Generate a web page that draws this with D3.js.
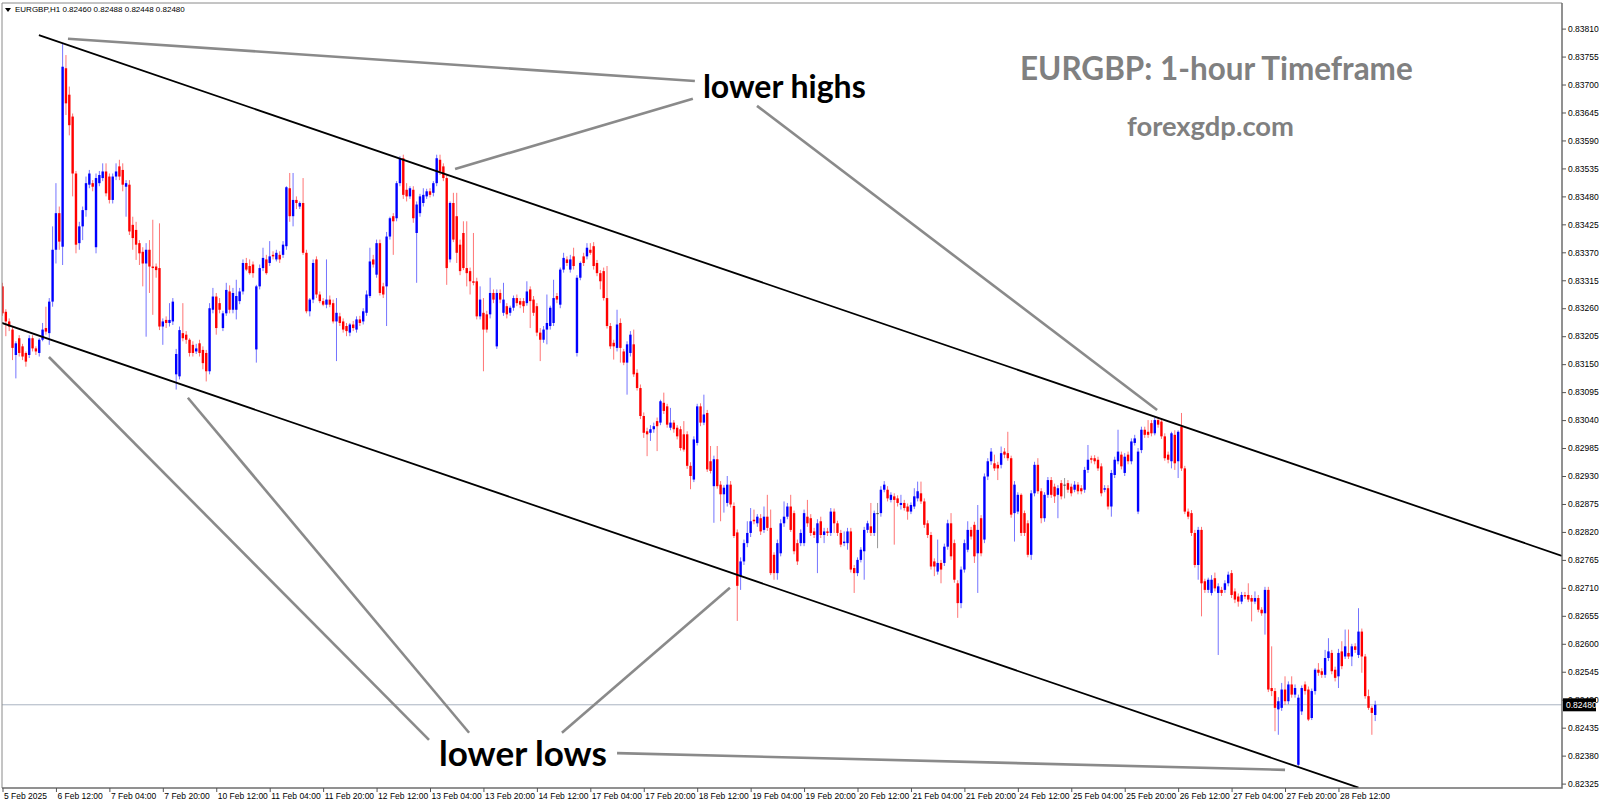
<!DOCTYPE html>
<meta charset="utf-8">
<style>
body { margin: 0; background: #fff; }
svg { display: block; font-family: "Liberation Sans", Arial, sans-serif; }
.axis text { font-size: 8.5px; fill: #000; }
.axis line { stroke: #555; }
.note { font-family: Lato, "Open Sans", sans-serif; font-weight: 700; }
</style>
<svg width="1600" height="805"></svg>
<script src="https://d3js.org/d3.v7.min.js"></script>
<script>

// EURGBP H1, 5 Feb 20:00 -> 28 Feb 23:00, one row per hour: [open, high, low, close] in points (x 0.00001)
var feb05to07 = [
  [83303,83310,83245,83250],[83253,83258,83205,83234],[83234,83240,83215,83224],[83218,83224,83158,83182],
  [83168,83195,83122,83191],[83201,83207,83165,83172],[83185,83190,83158,83165],[83172,83175,83145,83155],
  [83168,83207,83162,83201],[83201,83207,83175,83181],[83181,83185,83168,83175],[83172,83201,83165,83198],
  [83198,83231,83195,83218],[83221,83263,83208,83214],[83211,83280,83188,83273],[83273,83421,83263,83375],
  [83375,83506,83348,83447],[83447,83460,83375,83391],[83381,83781,83345,83735],[83732,83758,83640,83663],
  [83680,83696,83600,83620],[83637,83643,83480,83525],[83525,83530,83368,83385],[83388,83430,83375,83421],
  [83421,83460,83394,83453],[83453,83519,83440,83506],[83503,83532,83496,83525],[83506,83512,83490,83499],
  [83380,83525,83368,83516],[83506,83530,83500,83522],[83516,83545,83510,83529],[83529,83545,83480,83486],
  [83519,83525,83466,83473],[83473,83525,83466,83519],[83519,83545,83512,83529],[83539,83552,83512,83519],
  [83532,83545,83490,83503],[83499,83512,83440,83506],[83503,83512,83404,83411],[83424,83440,83375,83398],
  [83414,83430,83355,83385],[83388,83394,83345,83368],[83371,83380,83303,83348],[83348,83388,83204,83375],
  [83375,83394,83290,83342],[83342,83434,83247,83339],[83342,83348,83320,83335],[83339,83427,83217,83224],
  [83224,83240,83188,83234],[83237,83244,83221,83231],[83231,83270,83224,83237],[83234,83280,83227,83273]
];

var feb10to14 = [
  [83130,83180,83100,83170],[83126,83224,83120,83217],[83211,83270,83195,83201],[83208,83215,83190,83198],
  [83198,83201,83165,83172],[83188,83195,83165,83172],[83175,83190,83170,83181],[83191,83198,83165,83172],
  [83178,83185,83140,83152],[83172,83178,83116,83136],[83136,83270,83130,83260],[83257,83300,83250,83283],
  [83283,83290,83208,83221],[83270,83280,83250,83257],[83221,83255,83215,83250],[83250,83310,83245,83296],
  [83293,83305,83250,83257],[83257,83300,83250,83290],[83257,83316,83238,83284],[83274,83300,83268,83293],
  [83293,83356,83287,83349],[83349,83359,83333,83336],[83343,83356,83326,83329],[83346,83352,83320,83329],
  [83179,83306,83153,83303],[83303,83346,83297,83339],[83339,83379,83333,83359],[83356,83365,83326,83329],
  [83349,83392,83343,83362],[83365,83372,83356,83362],[83356,83375,83352,83369],[83365,83372,83349,83356],
  [83365,83392,83359,83385],[83382,83500,83375,83498],[83496,83526,83430,83441],[83441,83526,83421,83473],
  [83473,83480,83455,83467],[83460,83470,83455,83467],[83467,83516,83365,83369],[83369,83375,83250,83254],
  [83254,83280,83244,83277],[83277,83356,83270,83349],[83356,83362,83280,83287],[83287,83293,83270,83274],
  [83274,83280,83264,83267],[83267,83356,83260,83277],[83277,83285,83262,83267],[83270,83277,83230,83234],
  [83234,83280,83156,83251],[83244,83251,83225,83231],[83234,83240,83212,83218],[83225,83231,83205,83215],
  [83212,83231,83205,83228],[83228,83235,83215,83221],[83218,83244,83212,83238],[83238,83245,83225,83231],
  [83234,83260,83228,83254],[83251,83295,83245,83287],[83284,83379,83280,83352],[83356,83365,83340,83346],
  [83326,83395,83320,83388],[83388,83395,83285,83290],[83303,83310,83280,83287],[83303,83410,83225,83401],
  [83401,83440,83395,83437],[83441,83447,83365,83431],[83437,83510,83431,83506],[83506,83559,83500,83555],
  [83555,83562,83475,83483],[83493,83506,83470,83480],[83480,83500,83475,83496],[83493,83500,83428,83437],
  [83408,83470,83310,83464],[83447,83485,83440,83480],[83467,83496,83460,83483],[83480,83495,83475,83490],
  [83490,83496,83478,83483],[83487,83510,83480,83506],[83506,83562,83500,83555],[83552,83562,83522,83529],
  [83539,83545,83510,83516],[83516,83522,83306,83339],[83356,83470,83350,83467],[83467,83487,83390,83395],
  [83441,83487,83349,83369],[83385,83395,83325,83333],[83408,83431,83335,83339],[83339,83431,83303,83329],
  [83333,83340,83287,83313],[83313,83408,83305,83310],[83313,83320,83238,83244],[83244,83303,83238,83277],
  [83251,83280,83136,83218],[83248,83255,83212,83218],[83248,83320,83240,83290],[83290,83297,83270,83277],
  [83185,83297,83180,83290],[83290,83297,83270,83277],[83251,83310,83245,83277],[83264,83270,83240,83248],
  [83251,83265,83245,83261],[83261,83285,83255,83280],[83280,83287,83264,83270],[83274,83280,83260,83267],
  [83274,83280,83251,83264],[83270,83313,83265,83293],[83297,83303,83221,83274],[83277,83284,83245,83251],
  [83264,83270,83205,83212],[83212,83221,83156,83198],[83198,83225,83192,83218],[83218,83287,83189,83231],
  [83225,83265,83218,83261],[83231,83316,83225,83280],[83284,83290,83270,83277],[83267,83340,83260,83336],
  [83336,83369,83330,83359],[83356,83362,83343,83349],[83336,83365,83330,83356],[83362,83379,83336,83343]
];

var feb17to21 = [
  [83172,83325,83165,83320],[83320,83352,83315,83349],[83362,83369,83343,83349],[83362,83388,83356,83379],
  [83375,83388,83365,83369],[83382,83390,83336,83343],[83349,83355,83323,83329],[83329,83335,83297,83313],
  [83333,83340,83275,83280],[83280,83343,83220,83225],[83225,83231,83180,83185],[83192,83198,83159,83185],
  [83182,83257,83175,83228],[83231,83240,83153,83182],[83175,83180,83148,83153],[83153,83195,83090,83189],
  [83172,83215,83165,83208],[83189,83218,83125,83130],[83133,83140,83098,83103],[83103,83110,83042,83048],
  [83048,83055,83005,83015],[83018,83025,82969,83012],[83015,83030,82999,83022],[83022,83035,83015,83028],
  [83038,83045,82979,83028],[83035,83080,83030,83077],[83074,83094,83052,83058],[83067,83072,83025,83031],
  [83025,83064,83020,83035],[83035,83040,83015,83022],[83025,83030,83002,83008],[83022,83028,82980,82985],
  [83012,83038,82978,82982],[83012,83018,82944,82950],[82950,82957,82904,82930],[82923,83008,82918,83002],
  [82995,83072,82990,83067],[83067,83073,83028,83035],[83035,83090,83030,83051],[83054,83060,82938,82943],
  [82959,82989,82935,82940],[82910,82970,82838,82963],[82963,82989,82905,82910],[82913,82920,82841,82894],
  [82894,82912,82858,82907],[82877,82930,82870,82913],[82913,82920,82868,82874],[82871,82878,82808,82812],
  [82819,82825,82645,82714],[82733,82770,82706,82762],[82762,82805,82755,82798],[82798,82841,82790,82818],
  [82818,82867,82810,82841],[82844,82864,82835,82841],[82837,82855,82830,82850],[82847,82855,82814,82821],
  [82824,82870,82818,82850],[82850,82893,82822,82828],[82828,82864,82735,82739],[82775,82780,82726,82739],
  [82739,82805,82726,82798],[82778,82845,82772,82837],[82837,82880,82830,82850],[82850,82877,82845,82870],
  [82870,82893,82820,82824],[82857,82862,82776,82782],[82798,82805,82755,82762],[82798,82825,82792,82818],
  [82798,82864,82792,82857],[82850,82883,82830,82837],[82847,82855,82812,82818],[82821,82828,82808,82814],
  [82798,82845,82739,82837],[82841,82850,82808,82814],[82814,82828,82798,82821],[82821,82828,82812,82818],
  [82818,82867,82812,82860],[82860,82866,82818,82837],[82837,82842,82812,82818],[82818,82824,82790,82795],
  [82798,82821,82792,82801],[82798,82828,82785,82821],[82821,82828,82740,82746],[82749,82755,82700,82739],
  [82739,82770,82733,82765],[82765,82790,82760,82785],[82782,82830,82726,82824],[82824,82842,82818,82837],
  [82831,82877,82812,82818],[82818,82862,82812,82857],[82857,82877,82788,82857],[82857,82910,82850,82903],
  [82903,82920,82898,82913],[82903,82910,82880,82886],[82883,82898,82878,82893],[82890,82896,82795,82883],
  [82886,82892,82870,82877],[82873,82893,82864,82877],[82877,82883,82862,82867],[82870,82876,82844,82860],
  [82860,82878,82855,82873],[82870,82906,82865,82890],[82886,82919,82880,82900],[82896,82919,82875,82880],
  [82880,82886,82828,82834],[82837,82843,82808,82814],[82814,82820,82746,82752],[82762,82768,82733,82752],
  [82742,82805,82736,82759],[82759,82765,82719,82746],[82759,82797,82753,82791],[82791,82844,82785,82837],
  [82837,82857,82765,82772],[82798,82805,82720,82726],[82719,82725,82651,82680],[82680,82752,82670,82746],
  [82746,82805,82740,82798],[82785,82841,82780,82824],[82824,82830,82805,82811],[82834,82840,82759,82772]
];

var feb24to28 = [
  [82778,82873,82700,82824],[82847,82853,82772,82778],[82805,82935,82798,82929],[82929,82965,82922,82959],
  [82959,82985,82952,82978],[82955,82972,82940,82945],[82952,82958,82922,82945],[82952,82988,82945,82975],
  [82978,82985,82965,82972],[82975,83017,82960,82965],[82965,82970,82848,82854],[82857,82920,82801,82913],
  [82860,82898,82855,82893],[82893,82896,82812,82818],[82857,82862,82812,82818],[82837,82843,82770,82775],
  [82775,82902,82765,82896],[82896,82958,82890,82952],[82952,82965,82895,82900],[82900,82906,82837,82847],
  [82847,82898,82840,82893],[82893,82928,82887,82922],[82922,82928,82887,82893],[82909,82915,82877,82890],
  [82893,82912,82847,82906],[82916,82922,82884,82890],[82913,82926,82886,82913],[82916,82922,82897,82903],
  [82909,82915,82890,82896],[82903,82920,82898,82913],[82913,82918,82894,82900],[82906,82912,82894,82900],
  [82903,82948,82897,82942],[82942,82991,82936,82962],[82965,82970,82955,82962],[82965,82971,82953,82959],
  [82962,82968,82940,82945],[82949,82955,82890,82896],[82903,82912,82898,82906],[82906,82912,82864,82870],
  [82870,82942,82850,82936],[82932,82968,82926,82962],[82959,83021,82953,82978],[82972,82978,82943,82949],
  [82936,82975,82930,82968],[82972,82978,82953,82959],[82959,83004,82953,82998],[82995,83011,82990,83004],
  [82860,82985,82855,82978],[82981,83027,82975,83021],[83021,83027,83005,83011],[83017,83040,83005,83011],
  [83034,83040,83008,83014],[83014,83045,83010,83040],[83040,83046,83025,83031],[83037,83042,83003,83008],
  [83008,83014,82960,82965],[82972,82978,82955,82962],[82959,83017,82945,83014],[83011,83020,82942,82955],
  [82959,83020,82926,83017],[83027,83054,82940,82945],[82945,82950,82855,82860],[82860,82866,82845,82850],
  [82857,82863,82812,82818],[82818,82824,82750,82755],[82755,82830,82726,82824],[82824,82830,82654,82719],
  [82723,82728,82700,82706],[82706,82730,82700,82726],[82700,82735,82695,82726],[82729,82740,82703,82709],
  [82700,82719,82578,82713],[82706,82712,82694,82700],[82706,82725,82700,82719],[82719,82742,82713,82736],
  [82739,82745,82690,82696],[82703,82709,82680,82687],[82693,82699,82673,82683],[82683,82702,82678,82696],
  [82696,82702,82688,82693],[82696,82719,82682,82687],[82690,82696,82644,82683],[82683,82703,82678,82690],
  [82690,82696,82662,82667],[82667,82672,82655,82660],[82660,82712,82618,82706],[82706,82712,82505,82510],
  [82513,82595,82497,82507],[82507,82513,82428,82474],[82471,82495,82421,82487],[82474,82523,82468,82510],
  [82510,82536,82480,82487],[82487,82526,82481,82520],[82520,82536,82494,82500],[82500,82520,82494,82513],
  [82362,82500,82359,82494],[82467,82518,82460,82513],[82520,82526,82500,82507],[82510,82516,82448,82451],
  [82454,82512,82450,82507],[82507,82552,82500,82549],[82549,82562,82537,82543],[82546,82552,82533,82539],
  [82539,82588,82533,82572],[82572,82611,82566,82585],[82582,82588,82540,82546],[82549,82555,82526,82533],
  [82536,82590,82513,82582],[82585,82605,82550,82556],[82575,82628,82570,82595],[82582,82628,82570,82575],
  [82575,82600,82556,82595],[82595,82601,82582,82588],[82578,82670,82572,82624],[82624,82630,82543,82575],
  [82575,82580,82492,82497],[82497,82510,82470,82474],[82474,82478,82421,82464],[82460,82488,82448,82480]
];

// one label every 16 bars
var timeLabels = ["5 Feb 2025", "6 Feb 12:00", "7 Feb 04:00", "7 Feb 20:00", "10 Feb 12:00", "11 Feb 04:00",
  "11 Feb 20:00", "12 Feb 12:00", "13 Feb 04:00", "13 Feb 20:00", "14 Feb 12:00", "17 Feb 04:00",
  "17 Feb 20:00", "18 Feb 12:00", "19 Feb 04:00", "19 Feb 20:00", "20 Feb 12:00", "21 Feb 04:00",
  "21 Feb 20:00", "24 Feb 12:00", "25 Feb 04:00", "25 Feb 20:00", "26 Feb 12:00", "27 Feb 04:00",
  "27 Feb 20:00", "28 Feb 12:00"];

var priceTicks = [0.83810, 0.83755, 0.83700, 0.83645, 0.83590, 0.83535, 0.83480, 0.83425, 0.83370,
  0.83315, 0.83260, 0.83205, 0.83150, 0.83095, 0.83040, 0.82985, 0.82930, 0.82875, 0.82820, 0.82765,
  0.82710, 0.82655, 0.82600, 0.82545, 0.82490, 0.82435, 0.82380, 0.82325];

var lastPrice = 0.82480;

// trend lines: [bar, price] pairs
var channelLines = [
  [[10.9, 0.83797], [466.9, 0.82773]],
  [[-0.2, 0.83231], [406, 0.82317]]
];
var highPointers = [
  [[19.6, 0.83790], [207.3, 0.83707]],
  [[135.5, 0.83534], [206.7, 0.83672]],
  [[225.9, 0.83658], [345.7, 0.83060]]
];
var lowPointers = [
  [[13.9, 0.83164], [127.7, 0.82411]],
  [[55.5, 0.83084], [139.7, 0.82425]],
  [[217.8, 0.82710], [167.5, 0.82425]],
  [[184, 0.82385], [384, 0.82352]]
];

var candles = feb05to07.concat(feb10to14, feb17to21, feb24to28).map(function(r, i) {
  return { i: i, o: r[0] / 1e5, h: r[1] / 1e5, l: r[2] / 1e5, c: r[3] / 1e5 };
});

var svg = d3.select("svg"),
    plotLeft = 2, plotTop = 3, plotRight = 1562, plotBottom = 788;

var x = d3.scaleLinear().domain([0, 411]).range([2.5, 1375.2]);
var y = d3.scaleLinear().domain([0.82325, 0.83810]).range([783.6, 28.6]);

svg.append("rect").attr("width", 1600).attr("height", 805).attr("fill", "#fff");

svg.append("defs").append("clipPath").attr("id", "plot")
  .append("rect").attr("x", plotLeft).attr("y", plotTop)
  .attr("width", plotRight - plotLeft).attr("height", plotBottom - plotTop);

var plot = svg.append("g").attr("clip-path", "url(#plot)");

// last price line
plot.append("line")
    .attr("x1", plotLeft).attr("x2", plotRight)
    .attr("y1", y(lastPrice)).attr("y2", y(lastPrice))
    .attr("stroke", "#a9b3c1").attr("stroke-width", 1);

function colorOf(d) {
  if (d.c > d.o) return "#0000ff";
  if (d.c < d.o) return "#ff0000";
  return "#444";
}

var candle = plot.append("g").selectAll("g")
  .data(candles)
  .enter().append("g");

candle.append("line")
    .attr("x1", function(d) { return x(d.i); })
    .attr("x2", function(d) { return x(d.i); })
    .attr("y1", function(d) { return y(d.h); })
    .attr("y2", function(d) { return y(d.l); })
    .attr("stroke", colorOf)
    .attr("stroke-opacity", 0.55)
    .attr("stroke-width", 1);

candle.append("rect")
    .attr("x", function(d) { return x(d.i) - 1.2; })
    .attr("width", 2.4)
    .attr("y", function(d) { return y(Math.max(d.o, d.c)); })
    .attr("height", function(d) { return Math.max(1, y(Math.min(d.o, d.c)) - y(Math.max(d.o, d.c))); })
    .attr("fill", colorOf);

var line = d3.line()
  .x(function(p) { return x(p[0]); })
  .y(function(p) { return y(p[1]); });

plot.selectAll(".channel")
  .data(channelLines)
  .enter().append("path")
    .attr("class", "channel")
    .attr("d", line)
    .attr("fill", "none")
    .attr("stroke", "#000")
    .attr("stroke-width", 1.8);

plot.selectAll(".pointer")
  .data(highPointers.concat(lowPointers))
  .enter().append("path")
    .attr("class", "pointer")
    .attr("d", line)
    .attr("fill", "none")
    .attr("stroke", "#8a8a8a")
    .attr("stroke-width", 2.6);

// frame
svg.append("path")
    .attr("d", "M" + plotLeft + "," + plotBottom + "V" + plotTop + "H" + plotRight)
    .attr("fill", "none").attr("stroke", "#8a8a8a").attr("stroke-width", 1);
svg.append("path")
    .attr("d", "M" + plotLeft + "," + plotBottom + "H" + plotRight + "V" + plotTop)
    .attr("fill", "none").attr("stroke", "#6e6e6e").attr("stroke-width", 1.5);

// price axis
var yAxis = svg.append("g")
    .attr("class", "axis")
    .attr("transform", "translate(" + plotRight + ",0)")
    .call(d3.axisRight(y).tickValues(priceTicks).tickFormat(d3.format(".5f")).tickSize(4).tickPadding(2));
yAxis.select(".domain").remove();

// time axis
var xAxis = svg.append("g")
    .attr("class", "axis")
    .attr("transform", "translate(0," + plotBottom + ")")
    .call(d3.axisBottom(x)
      .tickValues(timeLabels.map(function(t, k) { return k * 16; }))
      .tickFormat(function(v) { return timeLabels[v / 16]; })
      .tickSize(4));
xAxis.select(".domain").remove();
xAxis.selectAll("text").attr("text-anchor", "start").attr("dx", "1").attr("y", 5);

// last price tag
var tag = svg.append("g").attr("transform", "translate(" + (plotRight + 1) + "," + y(lastPrice) + ")");
tag.append("rect").attr("x", 0).attr("y", -6.5).attr("width", 33).attr("height", 13).attr("fill", "#000");
tag.append("text").attr("x", 3).attr("y", 3.2).attr("fill", "#fff")
    .style("font-size", "8.5px").text(d3.format(".5f")(lastPrice));

// header
svg.append("path").attr("d", "M5,8H11L8,12Z").attr("fill", "#000");
svg.append("text").attr("x", 15).attr("y", 12).style("font-size", "8px")
    .text("EURGBP,H1  0.82460 0.82488 0.82448 0.82480");

function fit(sel, w) {
  var fs = parseFloat(sel.style("font-size"));
  sel.style("font-size", (fs * w / sel.node().getComputedTextLength()) + "px");
  return sel;
}

fit(svg.append("text").attr("class", "note").attr("x", 1020).attr("y", 80)
    .attr("fill", "#808080").style("font-size", "30px").text("EURGBP: 1-hour Timeframe"), 393);
fit(svg.append("text").attr("class", "note").attr("x", 1127).attr("y", 136)
    .attr("fill", "#808080").style("font-size", "26px").text("forexgdp.com"), 167);

fit(svg.append("text").attr("class", "note").attr("x", x(209.7)).attr("y", 98)
    .attr("fill", "#000").style("font-size", "30px").text("lower highs"), 163);
fit(svg.append("text").attr("class", "note").attr("x", x(130.7)).attr("y", 766)
    .attr("fill", "#000").style("font-size", "30px").text("lower lows"), 168);

</script>
